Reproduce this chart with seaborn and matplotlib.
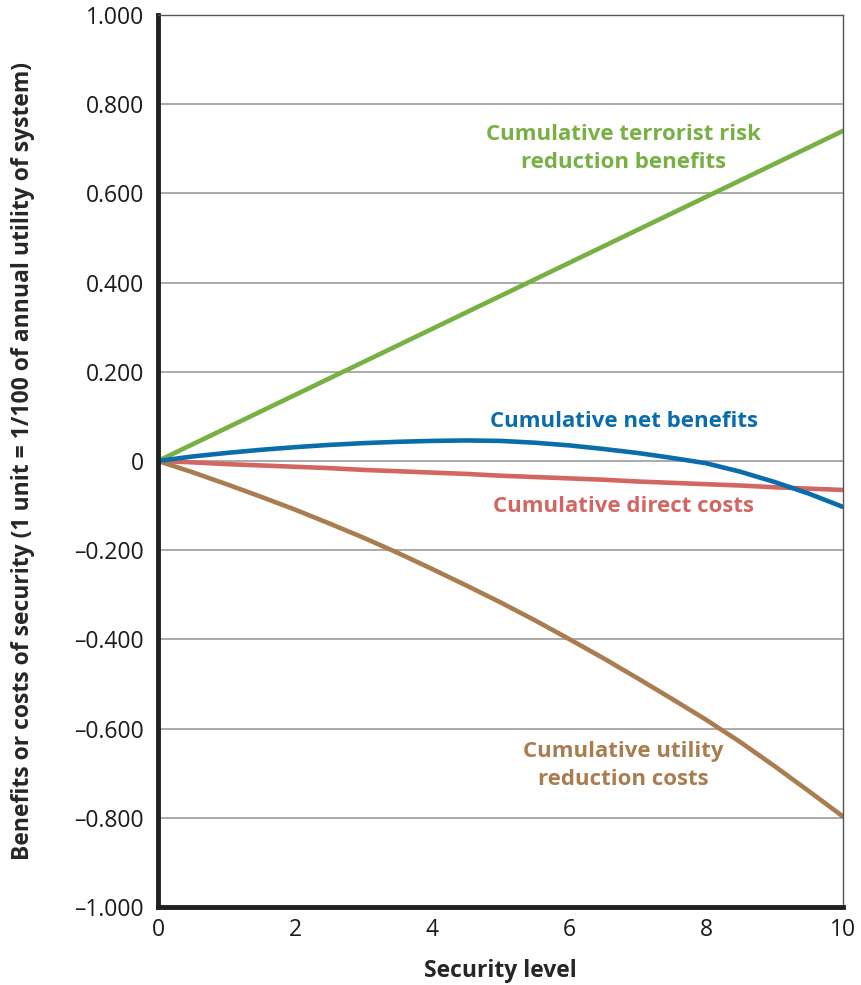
import pandas as pd
import matplotlib.pyplot as plt
import seaborn as sns
from matplotlib.ticker import FuncFormatter

# security level (x) and the four cumulative curves
security_level = [0, 0.5, 1, 1.5, 2, 2.5, 3, 3.5, 4, 4.5, 5,
                  5.5, 6, 6.5, 7, 7.5, 8, 8.5, 9, 9.5, 10]
terrorist_risk_benefits = [0.0, 0.037, 0.074, 0.111, 0.148, 0.185, 0.222, 0.259, 0.296, 0.333, 0.370,
                           0.407, 0.444, 0.481, 0.518, 0.555, 0.592, 0.629, 0.666, 0.703, 0.740]
net_benefits = [0.0, 0.010, 0.018, 0.025, 0.031, 0.036, 0.040, 0.043, 0.045, 0.046, 0.045,
                0.041, 0.035, 0.027, 0.018, 0.007, -0.005, -0.024, -0.047, -0.073, -0.103]
direct_costs = [0.0, -0.003, -0.007, -0.010, -0.013, -0.016, -0.020, -0.023, -0.026, -0.029, -0.033,
                -0.036, -0.039, -0.042, -0.046, -0.049, -0.052, -0.055, -0.059, -0.062, -0.065]
utility_reduction_costs = [0.0, -0.025, -0.052, -0.080, -0.109, -0.140, -0.172, -0.206, -0.242, -0.279, -0.317,
                           -0.357, -0.399, -0.442, -0.487, -0.533, -0.580, -0.630, -0.684, -0.740, -0.797]

y_ticks = [-1.0, -0.8, -0.6, -0.4, -0.2, 0.0, 0.2, 0.4, 0.6, 0.8, 1.0]
x_ticks = [0, 2, 4, 6, 8, 10]

GREEN = '#77B043'
BLUE = '#0A6DAB'
RED = '#D26662'
BROWN = '#A97D50'

df = pd.DataFrame({
    'Security level': security_level,
    'risk': terrorist_risk_benefits,
    'net': net_benefits,
    'direct': direct_costs,
    'utility': utility_reduction_costs,
})

sns.set_style('white')
plt.rcParams['font.family'] = ['Open Sans', 'DejaVu Sans']

fig = plt.figure(figsize=(8.61, 9.85), dpi=100)
ax = fig.add_axes([0.1835, 0.0792, 0.7955, 0.9056])

for col, color in [('risk', GREEN), ('direct', RED), ('utility', BROWN), ('net', BLUE)]:
    sns.lineplot(data=df, x='Security level', y=col, color=color, linewidth=3.3, ax=ax)

ax.set_xlim(0, 10)
ax.set_ylim(-1.0, 1.0)
ax.set_yticks(y_ticks)
ax.set_xticks(x_ticks)


def fmt_y(v, pos):
    if abs(v) < 1e-9:
        return '0'
    s = f'{abs(v):.3f}'
    return ('\u2013' + s) if v < 0 else s


ax.yaxis.set_major_formatter(FuncFormatter(fmt_y))
ax.grid(axis='y', color='#AAAAAA', linewidth=1.4)
ax.set_axisbelow(True)

ax.tick_params(axis='y', length=0, pad=10, labelsize=16.5, colors='#1a1a1a')
ax.tick_params(axis='x', direction='in', length=17, width=1.2, pad=8,
               labelsize=16.5, colors='#1a1a1a')

for side in ['left', 'bottom']:
    ax.spines[side].set_linewidth(3.5)
    ax.spines[side].set_color('#231f20')
for side in ['top', 'right']:
    ax.spines[side].set_linewidth(1.0)
    ax.spines[side].set_color('#555555')

ax.set_xlabel('Security level', fontsize=16.5, fontweight='bold', labelpad=12)
ax.set_ylabel('Benefits or costs of security (1 unit = 1/100 of annual utility of system)',
              fontsize=16.5, fontweight='bold', labelpad=28)

ax.text(6.8, 0.70, 'Cumulative terrorist risk\nreduction benefits', color=GREEN,
        fontsize=16, fontweight='bold', ha='center', va='center', linespacing=1.45)
ax.text(6.8, 0.088, 'Cumulative net benefits', color=BLUE,
        fontsize=16, fontweight='bold', ha='center', va='center')
ax.text(6.8, -0.103, 'Cumulative direct costs', color=RED,
        fontsize=16, fontweight='bold', ha='center', va='center')
ax.text(6.8, -0.683, 'Cumulative utility\nreduction costs', color=BROWN,
        fontsize=16, fontweight='bold', ha='center', va='center', linespacing=1.45)

fig.savefig('out.png', dpi=100)
